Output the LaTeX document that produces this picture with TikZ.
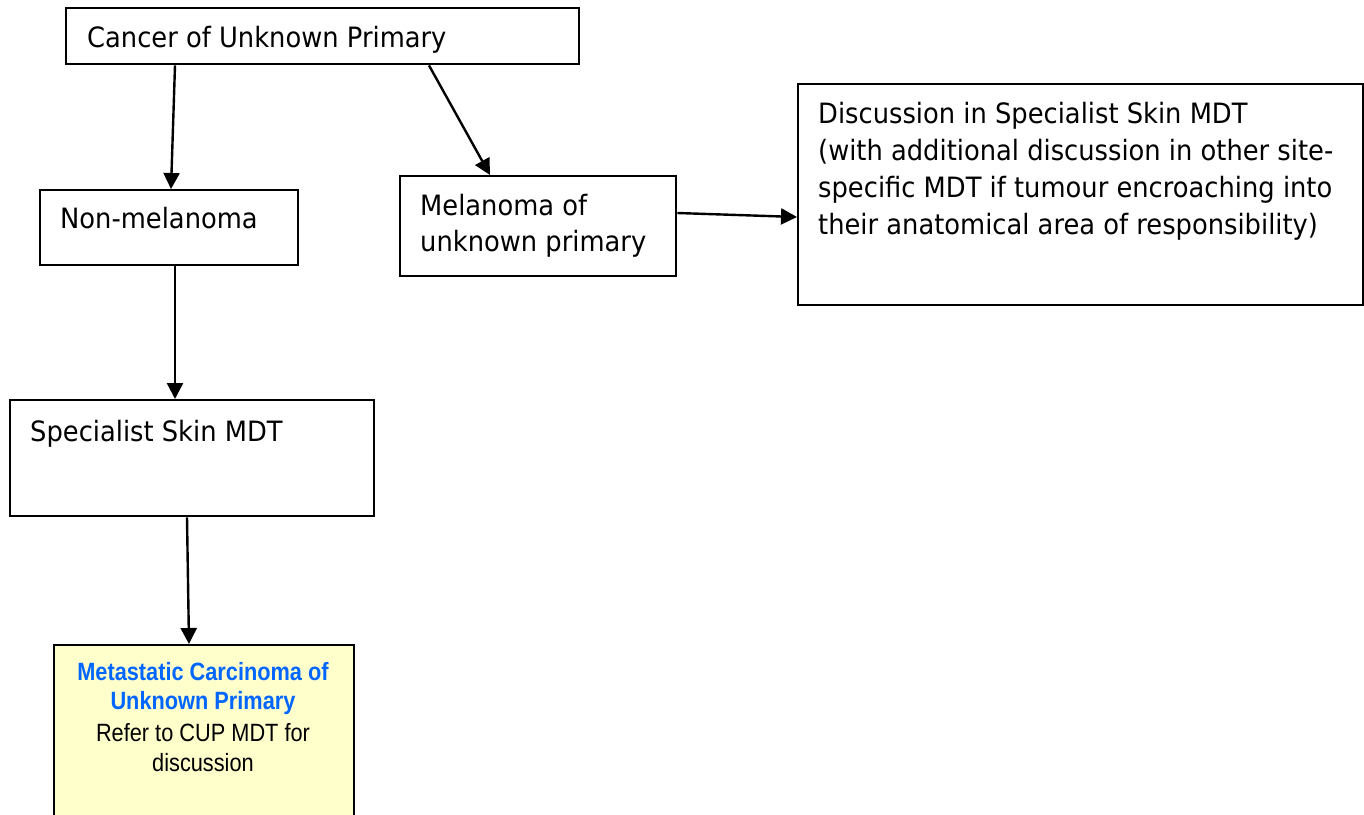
\documentclass[tikz,border=0pt]{standalone}
\usepackage{fontspec}
\setmainfont{DejaVu Sans}[FakeStretch=0.92]
\newfontfamily\narrowfont{Liberation Sans}[FakeStretch=0.87]
\usetikzlibrary{arrows.meta,calc}
\definecolor{noteyellow}{HTML}{FFFFCC}
\definecolor{cupblue}{HTML}{0066FF}

\begin{document}
\begin{tikzpicture}[x=1pt,y=-1pt,
  box/.style={draw,line width=2.4pt,inner sep=0pt,anchor=north west},
  lbl/.style={anchor=base west,inner sep=0pt,font=\fontsize{28}{37}\selectfont},
  notelbl/.style={anchor=base,inner sep=0pt,font=\narrowfont\fontsize{25}{30}\selectfont},
  flow/.style={-{Triangle[length=16pt,width=16pt]},line width=2.4pt}]
\useasboundingbox (0,0) rectangle (1364,814);
\clip (0,0) rectangle (1364,814);

% boxes
\node[box,minimum width=513pt,minimum height=56pt] (cup) at (65,7) {};
\node[box,minimum width=258pt,minimum height=75pt] (nonmel) at (39,189) {};
\node[box,minimum width=276pt,minimum height=100pt] (mel) at (399,175) {};
\node[box,minimum width=565pt,minimum height=221pt] (disc) at (797,83) {};
\node[box,minimum width=364pt,minimum height=116pt] (skin) at (9,399) {};
\node[box,line width=1.8pt,fill=noteyellow,minimum width=300pt,minimum height=200pt] (meta) at (53,644) {};

% labels
\node[lbl] (cupt) at (87,47) {Cancer of Unknown Primary};
\node[lbl] (nonmelt) at (60,228) {Non-melanoma};
\node[lbl] (melt1) at (420,215) {Melanoma of};
\node[lbl] (melt2) at (420,251) {unknown primary};
\node[lbl] (disct1) at (818,123) {Discussion in Specialist Skin MDT};
\node[lbl] (disct2) at (818,160) {(with additional discussion in other site-};
\node[lbl] (disct3) at (818,197) {specific MDT if tumour encroaching into};
\node[lbl] (disct4) at (818,234) {their anatomical area of responsibility)};
\node[lbl] (skint) at (30,441) {Specialist Skin MDT};
\node[notelbl,text=cupblue,font=\narrowfont\bfseries\fontsize{25}{30}\selectfont] (metat1) at (203,680) {Metastatic Carcinoma of};
\node[notelbl,text=cupblue,font=\narrowfont\bfseries\fontsize{25}{30}\selectfont] (metat2) at (203,709) {Unknown Primary};
\node[notelbl] (metat3) at (203,741) {Refer to CUP MDT for};
\node[notelbl] (metat4) at (203,771) {discussion};

% connectors
\draw[flow] ($(cup.south west)+(110,0)$) -- ($(nonmel.north west)+(132,0)$);
\draw[flow] ($(cup.south west)+(364,0)$) -- ($(mel.north west)+(91,0)$);
\draw[flow] ($(mel.north east)+(0,38)$) -- ($(disc.north west)+(0,134)$);
\draw[flow] ($(nonmel.south west)+(136,0)$) -- ($(skin.north west)+(166,0)$);
\draw[flow] ($(skin.south west)+(178,0)$) -- ($(meta.north west)+(136,0)$);
\end{tikzpicture}
\end{document}
